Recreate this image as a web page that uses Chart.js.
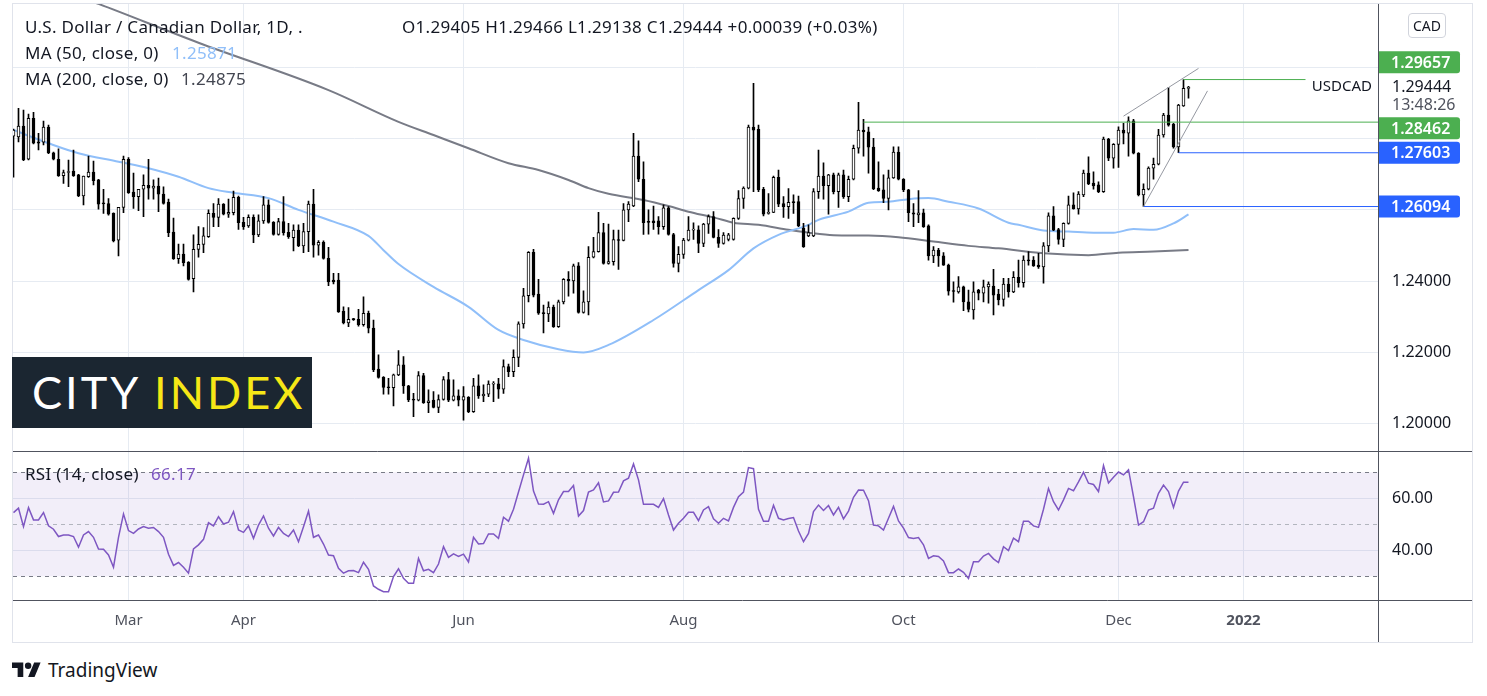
<!DOCTYPE html>
<html>
<head>
<meta charset="utf-8">
<title>USDCAD 1D</title>
<script src="https://cdn.jsdelivr.net/npm/chart.js@4.4.0/dist/chart.umd.min.js"></script>
<style>
  html, body { margin: 0; padding: 0; background: #fff; }
  body { width: 1487px; height: 696px; position: relative; overflow: hidden; font-family: 'Noto Sans', sans-serif; color: #131722; }
  #frame { position: absolute; left: 12px; top: 3px; width: 1461px; height: 640px; border: 1px solid #e0e3eb; box-sizing: border-box; }
  #usdcadChart { position: absolute; left: 13px; top: 4px; }
  .txt { position: absolute; white-space: nowrap; font-size: 17px; letter-spacing: 0.3px; line-height: 20px; color: #131722; }
  #cityIndex { position: absolute; left: 12px; top: 357px; width: 300px; height: 71px; background: #1b2631; font-family: 'Lato', sans-serif; font-size: 45px; line-height: 71px; letter-spacing: 3px; padding-left: 20px; box-sizing: border-box; color: #fff; }
  #cityIndex span { color: #f6e716; }
  #cadBtn { position: absolute; left: 1408px; top: 13px; width: 38px; height: 25px; border: 1px solid #d1d4dc; border-radius: 4px; box-sizing: border-box; font-size: 14px; line-height: 23px; text-align: center; color: #131722; }
  #tvLogo { position: absolute; left: 12px; top: 657px; display: flex; align-items: center; }
  #tvLogo span { font-size: 19px; margin-left: 7px; color: #131722; }
</style>
</head>
<body>
<div id="frame"></div>
<canvas id="usdcadChart" width="1459" height="638"></canvas>

<div class="txt" style="left:25px;top:17px">U.S. Dollar / Canadian Dollar, 1D, .</div>
<div class="txt" style="left:402px;top:17px">O1.29405 H1.29466 L1.29138 C1.29444 +0.00039 (+0.03%)</div>
<div class="txt" style="left:25px;top:43px">MA (50, close, 0)</div>
<div class="txt" style="left:172px;top:43px;color:#90bff9">1.25871</div>
<div class="txt" style="left:25px;top:69px">MA (200, close, 0)</div>
<div class="txt" style="left:181px;top:69px;color:#434651">1.24875</div>
<div class="txt" style="left:25px;top:464px">RSI (14, close)</div>
<div class="txt" style="left:151px;top:464px;color:#7e57c2">66.17</div>
<div id="cadBtn">CAD</div>
<div id="cityIndex">CITY <span>INDEX</span></div>
<div id="tvLogo">
  <svg width="29" height="23" viewBox="0 0 36 28"><path d="M14 22H7V11H0V4h14v18zM28 22h-8l7.5-18h8L28 22z" fill="#131722"/><circle cx="20" cy="8" r="4" fill="#131722"/></svg>
  <span>TradingView</span>
</div>

<script>
// Daily candles, one entry per trading session (late Jan 2021 .. 21 Dec 2021)
const opens = [
  1.2807,1.2805,1.2835,1.2742,1.2857,1.2791,1.2790,1.2832,1.2760,1.2742,
  1.2696,1.2705,1.2709,1.2698,1.2639,1.2693,1.2706,1.2684,1.2618,1.2618,
  1.2590,1.2515,1.2607,1.2742,1.2650,1.2637,1.2658,1.2669,1.2661,1.2667,
  1.2644,1.2622,1.2538,1.2463,1.2476,1.2453,1.2407,1.2489,1.2503,1.2525,
  1.2590,1.2579,1.2616,1.2588,1.2592,1.2635,1.2565,1.2555,1.2579,1.2530,
  1.2569,1.2614,1.2565,1.2531,1.2567,1.2537,1.2522,1.2543,1.2499,1.2539,
  1.2616,1.2501,1.2509,1.2464,1.2403,1.2403,1.2316,1.2283,1.2293,1.2293,
  1.2278,1.2310,1.2268,1.2153,1.2130,1.2102,1.2101,1.2137,1.2165,1.2106,
  1.2067,1.2066,1.2135,1.2059,1.2066,1.2046,1.2068,1.2124,1.2066,1.2078,
  1.2066,1.2074,1.2034,1.2106,1.2078,1.2083,1.2111,1.2112,1.2097,1.2160,
  1.2146,1.2186,1.2280,1.2359,1.2481,1.2364,1.2310,1.2308,1.2327,1.2272,
  1.2342,1.2405,1.2401,1.2443,1.2312,1.2342,1.2467,1.2483,1.2536,1.2450,
  1.2455,1.2515,1.2514,1.2600,1.2611,1.2751,1.2686,1.2566,1.2569,1.2569,
  1.2553,1.2606,1.2531,1.2450,1.2475,1.2515,1.2543,1.2544,1.2506,1.2560,
  1.2581,1.2523,1.2506,1.2517,1.2517,1.2576,1.2632,1.2661,1.2832,1.2826,
  1.2658,1.2590,1.2593,1.2691,1.2618,1.2609,1.2623,1.2623,1.2549,1.2527,
  1.2527,1.2651,1.2695,1.2668,1.2698,1.2651,1.2698,1.2637,1.2686,1.2773,
  1.2824,1.2819,1.2776,1.2661,1.2656,1.2632,1.2690,1.2762,1.2686,1.2656,
  1.2592,1.2586,1.2592,1.2555,1.2471,1.2487,1.2471,1.2445,1.2372,1.2370,
  1.2384,1.2342,1.2319,1.2375,1.2366,1.2384,1.2386,1.2364,1.2349,1.2392,
  1.2370,1.2411,1.2396,1.2459,1.2459,1.2445,1.2440,1.2499,1.2583,1.2545,
  1.2517,1.2562,1.2614,1.2603,1.2642,1.2703,1.2675,1.2670,1.2651,1.2799,
  1.2745,1.2784,1.2824,1.2815,1.2850,1.2759,1.2642,1.2658,1.2717,1.2728,
  1.2810,1.2866,1.2841,1.2777,1.2892,1.29405
];
const highs = [
  1.2827,1.2885,1.2880,1.2869,1.2874,1.2815,1.2849,1.2838,1.2762,1.2771,
  1.2712,1.2740,1.2768,1.2700,1.2695,1.2751,1.2737,1.2686,1.2658,1.2632,
  1.2592,1.2607,1.2751,1.2747,1.2703,1.2658,1.2698,1.2742,1.2684,1.2689,
  1.2665,1.2630,1.2577,1.2504,1.2504,1.2455,1.2530,1.2553,1.2550,1.2600,
  1.2618,1.2632,1.2618,1.2630,1.2653,1.2639,1.2579,1.2586,1.2586,1.2586,
  1.2637,1.2628,1.2567,1.2576,1.2637,1.2562,1.2558,1.2558,1.2562,1.2625,
  1.2658,1.2514,1.2513,1.2495,1.2422,1.2422,1.2328,1.2326,1.2296,1.2321,
  1.2356,1.2316,1.2291,1.2193,1.2132,1.2127,1.2139,1.2205,1.2188,1.2108,
  1.2085,1.2146,1.2141,1.2095,1.2090,1.2081,1.2132,1.2144,1.2123,1.2095,
  1.2104,1.2076,1.2127,1.2137,1.2109,1.2120,1.2118,1.2127,1.2179,1.2167,
  1.2207,1.2286,1.2380,1.2483,1.2489,1.2405,1.2333,1.2342,1.2333,1.2347,
  1.2407,1.2427,1.2448,1.2452,1.2373,1.2497,1.2523,1.2593,1.2562,1.2560,
  1.2543,1.2543,1.2618,1.2623,1.2815,1.2794,1.2735,1.2600,1.2611,1.2581,
  1.2614,1.2609,1.2534,1.2497,1.2520,1.2581,1.2564,1.2555,1.2562,1.2586,
  1.2595,1.2545,1.2536,1.2534,1.2578,1.2654,1.2665,1.2838,1.2955,1.2838,
  1.2663,1.2646,1.2695,1.2712,1.2637,1.2660,1.2642,1.2639,1.2562,1.2558,
  1.2660,1.2768,1.2732,1.2700,1.2703,1.2703,1.2712,1.2695,1.2782,1.2902,
  1.2854,1.2832,1.2801,1.2735,1.2698,1.2712,1.2777,1.2777,1.2688,1.2658,
  1.2618,1.2654,1.2602,1.2558,1.2497,1.2492,1.2480,1.2448,1.2398,1.2413,
  1.2386,1.2375,1.2398,1.2377,1.2403,1.2398,1.2433,1.2377,1.2408,1.2408,
  1.2427,1.2459,1.2471,1.2483,1.2469,1.2478,1.2508,1.2592,1.2609,1.2548,
  1.2564,1.2639,1.2648,1.2651,1.2712,1.2749,1.2707,1.2679,1.2804,1.2801,
  1.2786,1.2833,1.2843,1.2861,1.2854,1.2761,1.2673,1.2721,1.2745,1.2826,
  1.2871,1.2944,1.2843,1.2896,1.29657,1.29466
];
const lows = [
  1.2692,1.2791,1.2738,1.2740,1.2785,1.2768,1.2782,1.2758,1.2740,1.2694,
  1.2674,1.2665,1.2694,1.2637,1.2614,1.2691,1.2670,1.2602,1.2590,1.2585,
  1.2510,1.2471,1.2592,1.2646,1.2604,1.2598,1.2581,1.2630,1.2630,1.2595,
  1.2616,1.2525,1.2461,1.2450,1.2443,1.2403,1.2370,1.2467,1.2480,1.2523,
  1.2553,1.2553,1.2586,1.2579,1.2586,1.2545,1.2545,1.2551,1.2508,1.2525,
  1.2562,1.2563,1.2529,1.2529,1.2529,1.2520,1.2485,1.2497,1.2480,1.2483,
  1.2467,1.2473,1.2462,1.2387,1.2392,1.2312,1.2280,1.2272,1.2290,1.2274,
  1.2274,1.2255,1.2146,1.2128,1.2083,1.2083,1.2050,1.2135,1.2085,1.2062,
  1.2020,1.2064,1.2057,1.2031,1.2044,1.2031,1.2066,1.2062,1.2064,1.2050,
  1.2010,1.2031,1.2032,1.2071,1.2062,1.2076,1.2062,1.2071,1.2085,1.2132,
  1.2132,1.2160,1.2268,1.2342,1.2356,1.2307,1.2255,1.2286,1.2270,1.2270,
  1.2336,1.2358,1.2366,1.2310,1.2310,1.2305,1.2465,1.2481,1.2448,1.2448,
  1.2445,1.2433,1.2513,1.2567,1.2609,1.2679,1.2531,1.2532,1.2545,1.2532,
  1.2545,1.2529,1.2439,1.2426,1.2464,1.2513,1.2517,1.2480,1.2497,1.2534,
  1.2521,1.2495,1.2504,1.2513,1.2515,1.2573,1.2604,1.2659,1.2651,1.2651,
  1.2583,1.2588,1.2592,1.2609,1.2579,1.2576,1.2590,1.2553,1.2495,1.2525,
  1.2525,1.2632,1.2630,1.2588,1.2645,1.2607,1.2632,1.2623,1.2684,1.2759,
  1.2751,1.2703,1.2657,1.2652,1.2620,1.2600,1.2688,1.2684,1.2651,1.2567,
  1.2553,1.2564,1.2551,1.2459,1.2452,1.2441,1.2444,1.2361,1.2341,1.2366,
  1.2317,1.2314,1.2293,1.2347,1.2342,1.2338,1.2305,1.2333,1.2330,1.2355,
  1.2368,1.2383,1.2383,1.2445,1.2441,1.2436,1.2394,1.2483,1.2542,1.2504,
  1.2497,1.2560,1.2602,1.2588,1.2637,1.2671,1.2658,1.2648,1.2649,1.2738,
  1.2717,1.2719,1.2785,1.2751,1.2757,1.2639,1.26094,1.2656,1.2686,1.2726,
  1.2804,1.2835,1.2773,1.27603,1.2890,1.29138
];
const closes = [
  1.2824,1.2835,1.2740,1.2857,1.2787,1.2787,1.2832,1.2760,1.2742,1.2696,
  1.2705,1.2707,1.2696,1.2639,1.2695,1.2706,1.2682,1.2616,1.2617,1.2588,
  1.2513,1.2607,1.2742,1.2648,1.2637,1.2658,1.2669,1.2661,1.2667,1.2644,
  1.2618,1.2536,1.2463,1.2476,1.2452,1.2405,1.2489,1.2503,1.2527,1.2590,
  1.2579,1.2616,1.2588,1.2593,1.2635,1.2564,1.2553,1.2579,1.2530,1.2569,
  1.2614,1.2565,1.2531,1.2567,1.2536,1.2525,1.2543,1.2499,1.2539,1.2616,
  1.2501,1.2509,1.2464,1.2398,1.2398,1.2314,1.2283,1.2293,1.2292,1.2278,
  1.2310,1.2268,1.2151,1.2130,1.2102,1.2101,1.2137,1.2165,1.2106,1.2067,
  1.2066,1.2135,1.2059,1.2064,1.2046,1.2068,1.2124,1.2066,1.2078,1.2066,
  1.2076,1.2034,1.2106,1.2078,1.2083,1.2111,1.2112,1.2097,1.2160,1.2146,
  1.2186,1.2280,1.2359,1.2481,1.2361,1.2310,1.2309,1.2327,1.2272,1.2342,
  1.2405,1.2401,1.2443,1.2312,1.2342,1.2467,1.2483,1.2536,1.2450,1.2455,
  1.2517,1.2514,1.2600,1.2616,1.2751,1.2686,1.2564,1.2565,1.2564,1.2553,
  1.2606,1.2531,1.2450,1.2475,1.2515,1.2543,1.2544,1.2506,1.2560,1.2581,
  1.2523,1.2506,1.2529,1.2530,1.2576,1.2632,1.2661,1.2832,1.2824,1.2656,
  1.2588,1.2593,1.2691,1.2616,1.2609,1.2621,1.2620,1.2555,1.2497,1.2536,
  1.2651,1.2695,1.2668,1.2698,1.2651,1.2698,1.2637,1.2686,1.2773,1.2824,
  1.2819,1.2776,1.2659,1.2654,1.2632,1.2690,1.2762,1.2686,1.2656,1.2592,
  1.2588,1.2592,1.2553,1.2471,1.2487,1.2471,1.2445,1.2372,1.2371,1.2384,
  1.2342,1.2321,1.2370,1.2366,1.2384,1.2392,1.2361,1.2347,1.2392,1.2370,
  1.2411,1.2396,1.2459,1.2457,1.2443,1.2440,1.2499,1.2583,1.2543,1.2517,
  1.2562,1.2614,1.2603,1.2644,1.2703,1.2673,1.2667,1.2651,1.2799,1.2745,
  1.2784,1.2824,1.2815,1.2850,1.2759,1.2642,1.2658,1.2717,1.2728,1.2810,
  1.2866,1.2838,1.2777,1.2894,1.2941,1.29444
];
const rsi = [
  54.5,56.2,49.1,56.4,51.7,51.7,54.5,49.4,48.1,45.3,
  45.9,45.9,45.3,41.2,45.9,47.2,45.0,40.5,40.4,38.2,
  33.5,45.0,54.0,47.6,46.5,48.2,49.1,48.5,48.8,47.2,
  45.0,38.5,34.2,35.3,33.5,31.2,40.5,42.1,44.2,50.6,
  49.4,52.9,50.1,50.8,54.9,47.8,46.9,49.4,44.6,49.7,
  53.2,48.5,45.5,48.8,46.5,45.3,47.8,43.3,49.1,55.1,
  45.0,45.9,42.4,38.2,37.9,33.1,31.2,32.1,32.2,31.4,
  35.4,32.7,26.3,25.0,24.1,24.1,29.9,32.9,29.2,27.3,
  27.3,36.9,32.1,32.7,31.4,34.7,41.4,37.3,38.6,37.6,
  38.5,35.5,45.0,42.4,42.6,46.3,46.3,44.6,52.7,51.2,
  55.8,62.4,69.0,75.4,62.8,57.8,57.7,58.7,54.2,59.4,
  62.6,62.6,64.9,53.2,55.3,62.4,63.2,66.0,58.6,59.0,
  62.3,62.4,66.7,67.7,73.2,67.1,57.7,57.7,57.7,56.5,
  59.9,53.6,47.8,50.4,52.3,54.6,54.6,51.4,55.5,56.8,
  52.1,50.4,52.3,51.3,56.5,60.6,62.4,71.8,71.4,55.8,
  51.2,51.2,57.3,52.3,51.7,52.2,52.6,47.4,43.3,46.5,
  54.9,57.4,55.3,57.2,53.6,56.5,52.1,55.1,60.4,63.2,
  63.1,59.1,49.7,49.4,47.8,52.3,56.9,51.3,48.5,44.9,
  44.5,44.9,42.1,36.9,37.9,37.6,35.9,31.4,31.4,32.8,
  31.5,29.2,35.6,35.6,37.8,38.8,36.7,35.3,41.4,39.9,
  44.7,43.3,51.2,51.2,49.4,48.8,55.8,63.8,58.7,55.5,
  59.4,63.8,62.9,66.3,70.0,65.8,65.3,62.6,72.6,65.9,
  68.1,70.1,69.0,71.0,60.6,49.7,51.0,55.5,56.2,61.9,
  65.1,62.6,56.5,62.8,66.2,66.17
];

// moving averages at sample bars
const ma50Bars = [0,7,13,21,27,33,39,44,51,57,64,71,74,77,84,91,97,102,109,114,119,128,137,143,148,153,159,161,167,171,175,179,183,187,193,199,201,206,211,216,220,224,228,232,235];
const ma50Values = [1.2824,1.2787,1.2759,1.2735,1.2717,1.2693,1.2661,1.2648,1.2633,1.2600,1.2567,1.2527,1.2487,1.2448,1.2384,1.2328,1.2263,1.2235,1.2209,1.2200,1.2221,1.2291,1.2375,1.2431,1.2492,1.2530,1.2558,1.2572,1.2595,1.2620,1.2623,1.2630,1.2633,1.2623,1.2604,1.2564,1.2558,1.2542,1.2539,1.2536,1.2536,1.2546,1.2544,1.2562,1.25871];
const ma200Bars = [0,17,37,63,77,84,91,99,105,111,115,119,126,131,135,140,144,149,155,159,164,171,177,184,191,197,206,215,221,228,235];
const ma200Values = [1.3265,1.3178,1.3069,1.2936,1.2847,1.2810,1.2773,1.2731,1.2712,1.2684,1.2661,1.2645,1.2628,1.2611,1.2595,1.2579,1.2564,1.2558,1.2544,1.2536,1.2529,1.2528,1.2523,1.2511,1.2499,1.2492,1.2478,1.2473,1.2480,1.2483,1.24875];

// drawn levels and channel
const levelPrices = [1.28462, 1.29657, 1.27603, 1.26094];
const levelStartBars = [170, 234, 233, 226];
const levelEndBars = [273, 258.4, 273, 273];
const channelUpperBars = [222, 237];
const channelUpperPrices = [1.2863, 1.2997];
const channelLowerBars = [226, 238.8];
const channelLowerPrices = [1.26094, 1.2934];

// axes
const tickBars = [23, 46, 90, 134, 178, 221, 246];
const tickLabels = ['Mar', 'Apr', 'Jun', 'Aug', 'Oct', 'Dec', '2022'];
const priceGrid = [1.20, 1.22, 1.24, 1.26, 1.28, 1.30];
const priceLabelled = [1.20, 1.22, 1.24];
const rsiGrid = [40, 60];
const rsiLevels = [70, 50, 30];
const tagPrices = [1.29657, 1.28462, 1.27603, 1.26094];
const tagColors = ['#4caf50', '#4caf50', '#2962ff', '#2962ff'];
const levelColors = ['#4caf50', '#4caf50', '#2962ff', '#2962ff'];
const symbolName = 'USDCAD';
const countdown = '13:48:26';

const FONT = "'Noto Sans', sans-serif";
Chart.defaults.font.family = FONT;

function lineSet(label, xs, ys, color, width, extra) {
    return Object.assign({
        type: 'line',
        label: label,
        yAxisID: 'y',
        data: xs.map((x, k) => ({ x: x, y: ys[k] })),
        borderColor: color,
        borderWidth: width,
        pointRadius: 0,
        fill: false,
        tension: 0,
        order: 1
    }, extra || {});
}

/**
 * RSI band, dashed levels, pane frame and right-hand price tags
 */
const paneDecor = {
    id: 'paneDecor',
    beforeDatasetsDraw(chart) {
        const { ctx, chartArea } = chart;
        const r = chart.scales.yRsi;
        const top = r.getPixelForValue(rsiLevels[0]);
        const bottom = r.getPixelForValue(rsiLevels[2]);
        ctx.save();
        ctx.fillStyle = 'rgba(126, 87, 194, 0.1)';
        ctx.fillRect(chartArea.left, top, chartArea.width, bottom - top);
        ctx.lineWidth = 1;
        ctx.setLineDash([4, 4]);
        rsiLevels.forEach((lvl, k) => {
            const y = Math.round(r.getPixelForValue(lvl)) + 0.5;
            ctx.strokeStyle = k === 1 ? '#b2b5be' : '#787b86';
            ctx.beginPath();
            ctx.moveTo(chartArea.left, y);
            ctx.lineTo(chartArea.right, y);
            ctx.stroke();
        });
        ctx.restore();
    },
    afterDraw(chart) {
        const { ctx, chartArea, width, height } = chart;
        const y = chart.scales.y;
        ctx.save();
        ctx.strokeStyle = '#50535e';
        ctx.lineWidth = 1;
        const sep = Math.round(y.bottom) + 0.5;
        const axisTop = Math.round(chartArea.bottom) + 0.5;
        const axisLeft = Math.round(chartArea.right) + 0.5;
        ctx.beginPath();
        ctx.moveTo(0, sep); ctx.lineTo(width, sep);
        ctx.moveTo(0, axisTop); ctx.lineTo(width, axisTop);
        ctx.moveTo(axisLeft, 0); ctx.lineTo(axisLeft, height);
        ctx.stroke();

        // last price block
        const last = closes[closes.length - 1];
        const lastY = y.getPixelForValue(last);
        ctx.textBaseline = 'middle';
        ctx.font = '16px ' + FONT;
        ctx.fillStyle = '#131722';
        ctx.textAlign = 'left';
        ctx.fillText(last.toFixed(5), chartArea.right + 14, lastY);
        ctx.fillStyle = '#50535e';
        ctx.fillText(countdown, chartArea.right + 14, lastY + 18);
        ctx.font = '15px ' + FONT;
        ctx.fillStyle = '#131722';
        ctx.textAlign = 'right';
        ctx.fillText(symbolName, chartArea.right - 6, lastY);

        // tags, pushed off the last price block like the original
        const blockTop = lastY - 11, blockBottom = lastY + 29;
        let prevBottom = -Infinity;
        tagPrices.forEach((p, k) => {
            let cy = y.getPixelForValue(p);
            if (p > last) cy = Math.min(cy, blockTop - 14);
            else cy = Math.max(cy, blockBottom + 12, prevBottom + 12);
            prevBottom = cy + 11;
            ctx.fillStyle = tagColors[k];
            ctx.beginPath();
            ctx.roundRect(chartArea.right + 1, cy - 11, 81, 22, [0, 3, 3, 0]);
            ctx.fill();
            ctx.fillStyle = '#ffffff';
            ctx.textAlign = 'left';
            ctx.font = '600 16px ' + FONT;
            ctx.fillText(p.toFixed(5), chartArea.right + 13, cy + 1);
        });
        ctx.restore();
    }
};

document.addEventListener('DOMContentLoaded', function() {
    const bars = opens.map((_, i) => i);
    const ctx = document.getElementById('usdcadChart').getContext('2d');

    const datasets = [
        {
            type: 'bar', label: 'wicks', yAxisID: 'y', grouped: false, order: 3,
            data: bars.map(i => ({ x: i, y: [lows[i], highs[i]] })),
            backgroundColor: '#000000', barThickness: 1, borderWidth: 0
        },
        {
            type: 'bar', label: 'bodies', yAxisID: 'y', grouped: false, order: 2,
            data: bars.map(i => ({ x: i, y: [opens[i], closes[i]] })),
            backgroundColor: c => closes[c.dataIndex] >= opens[c.dataIndex] ? '#ffffff' : '#000000',
            borderColor: '#000000', borderWidth: 1, borderSkipped: false,
            barThickness: 3, minBarLength: 1
        },
        lineSet('MA 50', ma50Bars, ma50Values, '#90bff9', 2, { tension: 0.4, cubicInterpolationMode: 'monotone', order: 4 }),
        lineSet('MA 200', ma200Bars, ma200Values, '#787b86', 2, { tension: 0.4, cubicInterpolationMode: 'monotone', order: 4 }),
        lineSet('channel upper', channelUpperBars, channelUpperPrices, '#9598a1', 1),
        lineSet('channel lower', channelLowerBars, channelLowerPrices, '#9598a1', 1),
        {
            type: 'line', label: 'RSI', yAxisID: 'yRsi', order: 1,
            data: rsi.map((v, i) => ({ x: i, y: v })),
            borderColor: '#7e57c2', borderWidth: 1.5, pointRadius: 0, fill: false, tension: 0
        }
    ];
    levelPrices.forEach((p, k) => {
        datasets.push(lineSet('level ' + p, [levelStartBars[k], levelEndBars[k]], [p, p], levelColors[k], 1));
    });

    const noPad = s => { s.paddingTop = 0; s.paddingBottom = 0; s.paddingLeft = 0; s.paddingRight = 0; };

    new Chart(ctx, {
        type: 'bar',
        data: { datasets: datasets },
        options: {
            responsive: false,
            animation: false,
            devicePixelRatio: 1,
            events: [],
            layout: { padding: 0 },
            plugins: { legend: { display: false }, tooltip: { enabled: false } },
            scales: {
                x: {
                    type: 'linear', position: 'bottom', min: -0.1, max: 272.9, offset: false,
                    afterBuildTicks: s => { s.ticks = tickBars.map(v => ({ value: v })); },
                    afterFit: s => { s.height = 42; noPad(s); },
                    ticks: {
                        autoSkip: false, maxRotation: 0, padding: 12, color: '#50535e',
                        font: c => ({ size: 15, weight: c.tick && c.tick.value === 246 ? 'bold' : 'normal' }),
                        callback: v => tickLabels[tickBars.indexOf(v)]
                    },
                    grid: { color: '#e6ebf2', drawTicks: false, offset: false },
                    border: { display: false }
                },
                y: {
                    type: 'linear', position: 'right', stack: 'panes', stackWeight: 446.5,
                    min: 1.19227, max: 1.31777,
                    afterBuildTicks: s => { s.ticks = priceGrid.map(v => ({ value: v })); },
                    afterFit: s => { s.width = 94; noPad(s); },
                    ticks: {
                        padding: 14, color: '#131722', font: { size: 16 },
                        callback: v => priceLabelled.includes(v) ? v.toFixed(5) : ''
                    },
                    grid: { color: '#e6ebf2', drawTicks: false },
                    border: { display: false }
                },
                yRsi: {
                    type: 'linear', position: 'right', stack: 'panes', stackWeight: 148.5,
                    min: 20.88, max: 78.1,
                    afterBuildTicks: s => { s.ticks = rsiGrid.map(v => ({ value: v })); },
                    afterFit: s => { s.width = 94; noPad(s); },
                    ticks: {
                        padding: 14, color: '#131722', font: { size: 16 },
                        callback: v => v.toFixed(2)
                    },
                    grid: { color: '#e6ebf2', drawTicks: false },
                    border: { display: false }
                }
            }
        },
        plugins: [paneDecor]
    });
});
</script>
</body>
</html>
